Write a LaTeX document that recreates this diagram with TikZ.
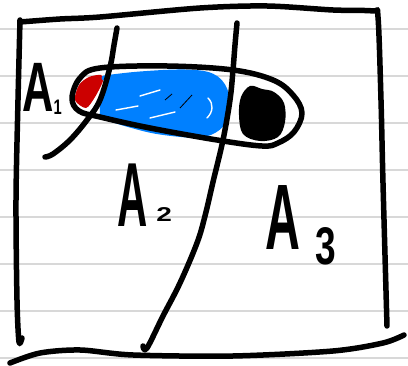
\documentclass[tikz,border=0pt]{standalone}
\usepackage{fontspec}
\setmainfont{Liberation Sans}
\definecolor{paper}{RGB}{216,216,216}
\definecolor{redink}{RGB}{204,0,0}
\definecolor{blueink}{RGB}{0,128,255}
\begin{document}
\begin{tikzpicture}[x=1pt,y=-1pt,
  pen/.style={draw=black, line width=5.5pt, line cap=round, line join=round},
  ruling/.style={draw=paper, line width=1.6pt},
  scribble/.style={draw=blueink, line width=5pt, line cap=round, line join=round},
  streak/.style={draw=white, line width=1.4pt, line cap=round},
  handlabel/.style={inner sep=0pt, anchor=base west, font=\bfseries}]
\useasboundingbox (0,0) rectangle (408,366);
\fill[white] (0,0) rectangle (408,366);
% ruled paper
\foreach \yy in {29,76,123,170,217,264,311,358} \draw[ruling] (0,\yy) -- (408,\yy);
% red end
\fill[redink] plot[smooth cycle, tension=0.5] coordinates {(75,100)(79,85)(89,77)(101,75)(103,81)(95,97)(86,108)};
% blue scribble
\fill[blueink] plot[smooth cycle, tension=0.6] coordinates {(106,79)(130,76)(170,74)(200,73)(217,79)(227,93)(228,112)(220,127)(200,134)(165,131)(135,124)(110,120)(100,112)};
\draw[scribble] plot[smooth, tension=0.6] coordinates {(104,78)(140,74)(185,72)(212,76)(225,90)(227,112)(218,128)(198,135)(160,132)(130,125)(101,116)};
\draw[scribble] plot[smooth, tension=0.6] coordinates {(102,114)(120,95)(150,85)(190,82)(215,92)};
\draw[streak] (116,110) -- (138,106);
\draw[streak] (150,118) -- (175,112);
\draw[streak] (208,98) .. controls (214,104) and (213,112) .. (207,118);
\draw[streak] (140,96) -- (160,90);
\draw[black, line width=0.8pt] (180,108) -- (192,95);
\draw[black, line width=0.8pt] (165,100) -- (172,94);
% black end
\fill[black] plot[smooth cycle, tension=0.6] coordinates {(250,86)(262,89)(274,92)(284,103)(285,122)(278,137)(260,141)(243,134)(239,115)(241,97)};
% capsule outline
\draw[pen] plot[smooth cycle, tension=0.6] coordinates {(72,98)(80,78)(100,68)(167,66)(233,70)(273,80)(293,95)(302,113)(294,132)(278,143)(262,146)(217,140)(150,128)(100,117)(79,111)};
% dividers
\draw[pen] plot[smooth, tension=0.6] coordinates {(117,28)(114,45)(110,67)(100,100)(87,120)(70,140)(53,154)(45,157)};
\draw[pen] plot[smooth, tension=0.6] coordinates {(237,23)(235,45)(233,70)(230,100)(223,140)(213,182)(205,216)(197,243)(180,283)(163,316)(147,348)(143,346)};
% square
\draw[pen] plot[smooth, tension=0.5] coordinates {(20,22)(60,19)(100,17)(200,8)(267,6)(333,10)(373,11)(378,17)(381,100)(383,183)(387,326)};
\draw[pen] plot[smooth, tension=0.5] coordinates {(20,20)(18,100)(16,200)(17,300)(19,342)(22,338)};
\draw[pen] plot[smooth, tension=0.5] coordinates {(10,363)(40,353)(80,350)(133,355)(233,356)(333,351)(383,343)(404,335)};
% labels
\node[handlabel] (a1) at (22,112) {\scalebox{0.62}[1]{\fontsize{70}{70}\selectfont A}\hspace{0pt}\raisebox{-3pt}{\scalebox{0.7}[1]{\fontsize{21}{21}\selectfont 1}}};
\node[handlabel] (a2) at (117,227) {\scalebox{0.46}[1]{\fontsize{91}{91}\selectfont A}\hspace{9pt}\raisebox{5pt}{\scalebox{1.4}[1]{\fontsize{20}{20}\selectfont 2}}};
\node[handlabel] (a3) at (265,250) {\scalebox{0.52}[1]{\fontsize{93}{93}\selectfont A}\hspace{15pt}\raisebox{-15pt}{\scalebox{0.7}[1]{\fontsize{53}{53}\selectfont 3}}};
\end{tikzpicture}
\end{document}
